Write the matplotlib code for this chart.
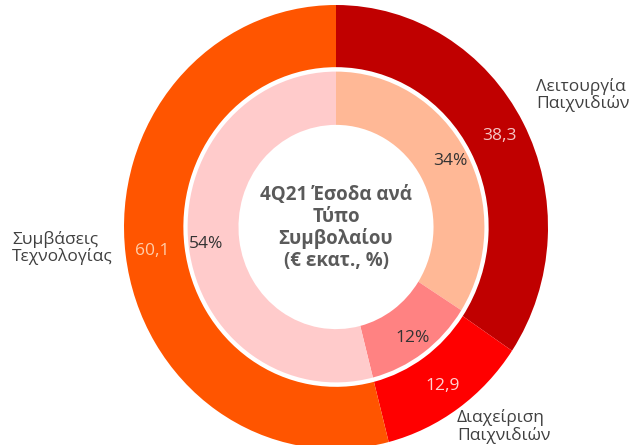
import matplotlib
matplotlib.use("Agg")
import matplotlib.pyplot as plt

plt.rcParams['font.family'] = ['Open Sans', 'DejaVu Sans']

# 4Q21 revenue by contract type (€ m, %)
categories = ["Λειτουργία\nΠαιχνιδιών", "Διαχείριση\nΠαιχνιδιών", "Συμβάσεις\nΤεχνολογίας"]
values_eur = [38.3, 12.9, 60.1]
shares_pct = [34, 12, 54]
center_title = "4Q21 Έσοδα ανά\nΤύπο\nΣυμβολαίου\n(€ εκατ., %)"

outer_colors = ['#C00000', '#FF0000', '#FF5500']
inner_colors = ['#FFB896', '#FF8282', '#FFCBCB']
outer_text_colors = ['#F6C6C6', '#FFD2D2', '#FFCDA8']

fig = plt.figure(figsize=(6.38, 4.45), dpi=100)
# chart is slightly taller than wide in the original
ax = fig.add_axes([124 / 638, -4 / 445, 424 / 638, 444 / 445])

wedges, _, outer_txt = ax.pie(
    values_eur, radius=1.0, colors=outer_colors, startangle=90, counterclock=False,
    wedgeprops=dict(width=0.28, edgecolor='none'),
    autopct=lambda p: '', pctdistance=0.875, frame=True)
for t, v, c in zip(outer_txt, values_eur, outer_text_colors):
    t.set_text(f"{v:.1f}".replace('.', ','))
    t.set_color(c)
    t.set_fontsize(12.5)

wedges2, _, inner_txt = ax.pie(
    shares_pct, radius=0.70, colors=inner_colors, startangle=90, counterclock=False,
    wedgeprops=dict(width=0.24, edgecolor='none'),
    autopct=lambda p: '', pctdistance=0.88, frame=True)
for t, v in zip(inner_txt, shares_pct):
    t.set_text(f"{v}%")
    t.set_color('#333333')
    t.set_fontsize(12.5)

ax.set_aspect('auto')
ax.set_xlim(-1, 1)
ax.set_ylim(-1, 1)
ax.axis('off')

label_style = dict(fontsize=12.5, color='#404040', va='center', ha='left', linespacing=1.05)
ax.text(0.943, 0.595, categories[0], **label_style)
ax.text(0.571, -0.90, categories[1], **label_style)
ax.text(-1.528, -0.095, categories[2], **label_style)

ax.text(0, -0.005, center_title, ha='center', va='center', fontsize=13.5,
        fontweight='bold', color='#5a5a5a', linespacing=1.1)

fig.savefig('out.png', dpi=100)
